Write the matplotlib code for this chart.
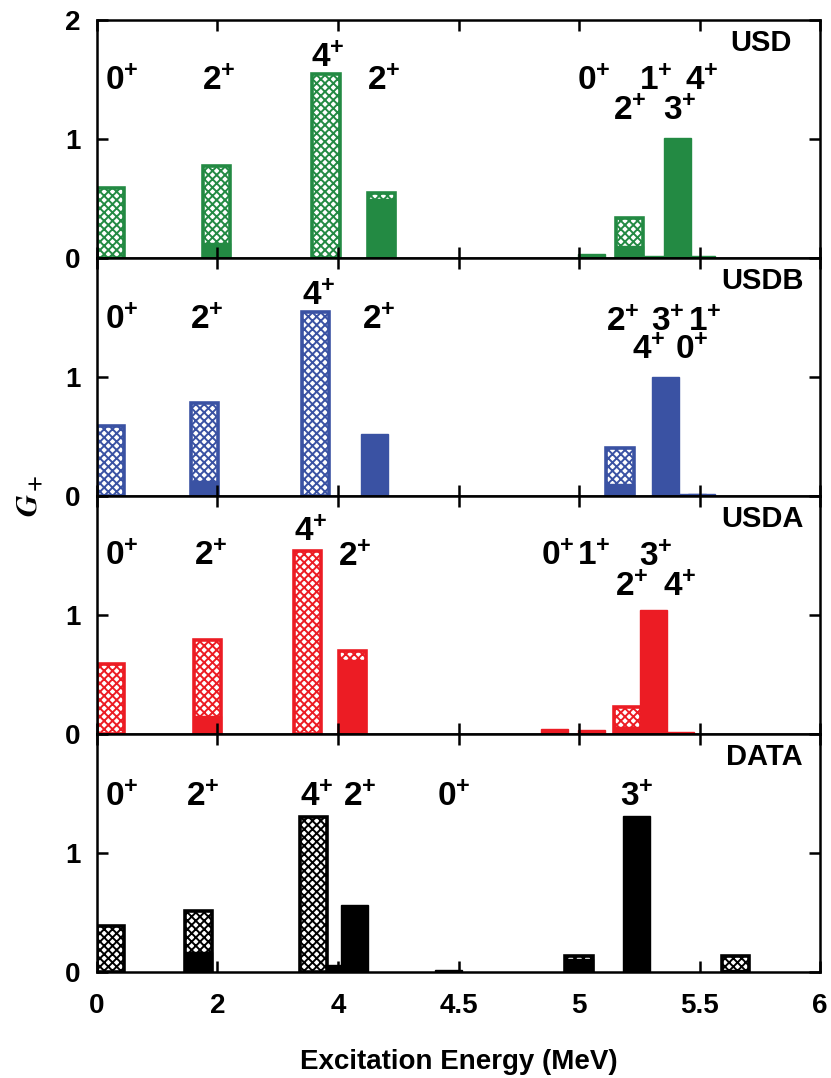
import matplotlib
matplotlib.use("Agg")
import matplotlib.pyplot as plt
import numpy as np

plt.rcParams["font.family"] = ["Liberation Sans", "DejaVu Sans"]
plt.rcParams["font.weight"] = "bold"
plt.rcParams["mathtext.fontset"] = "custom"
plt.rcParams["mathtext.rm"] = "Liberation Sans:bold"
plt.rcParams["mathtext.bf"] = "Liberation Sans:bold"
plt.rcParams["mathtext.it"] = "Liberation Sans:italic:bold"
plt.rcParams["hatch.linewidth"] = 1.4

# Axis: energies in MeV, broken scale (0-4 compressed, 4-6 expanded)
tick_energy = [0, 2, 4, 4.5, 5, 5.5, 6]
tick_labels = ["0", "2", "4", "4.5", "5", "5.5", "6"]

panels = ["USD", "USDB", "USDA", "DATA"]
colors = ["#238a43", "#3a52a3", "#ec1c24", "#000000"]

# bar energies (MeV), total height (hatched) and solid bottom part
usd_energy = [0.22, 1.99, 3.80, 4.18, 5.05, 5.21, 5.31, 5.41, 5.51]
usd_total = [0.59, 0.77, 1.55, 0.55, 0.03, 0.34, 0.02, 1.01, 0.02]
usd_solid = [0.0, 0.13, 0.0, 0.50, 0.03, 0.10, 0.02, 1.01, 0.02]

usdb_energy = [0.22, 1.78, 3.63, 4.15, 5.17, 5.36, 5.47, 5.51]
usdb_total = [0.59, 0.78, 1.55, 0.525, 0.40, 1.00, 0.02, 0.02]
usdb_solid = [0.0, 0.13, 0.0, 0.525, 0.10, 1.00, 0.02, 0.02]

usda_energy = [0.22, 1.84, 3.49, 4.06, 4.90, 5.05, 5.20, 5.31, 5.42]
usda_total = [0.59, 0.79, 1.54, 0.70, 0.04, 0.03, 0.225, 1.04, 0.02]
usda_solid = [0.0, 0.15, 0.0, 0.62, 0.04, 0.03, 0.06, 1.04, 0.02]

data_energy = [3.85, 0.23, 1.69, 3.59, 4.07, 4.46, 5.00, 5.24, 5.65]
data_total = [0.06, 0.39, 0.515, 1.30, 0.56, 0.02, 0.135, 1.31, 0.135]
data_solid = [0.06, 0.0, 0.17, 0.0, 0.56, 0.02, 0.11, 1.31, 0.02]

# level labels: text, energy, height
usd_labels = [("0", 0.42, 1.48), ("2", 2.02, 1.48), ("4", 3.83, 1.68), ("2", 4.19, 1.48),
              ("0", 5.06, 1.48), ("1", 5.32, 1.48), ("4", 5.51, 1.48),
              ("2", 5.21, 1.23), ("3", 5.42, 1.23)]
usdb_labels = [("0", 0.42, 1.475), ("2", 1.83, 1.475), ("4", 3.68, 1.68), ("2", 4.17, 1.475),
               ("2", 5.18, 1.46), ("3", 5.37, 1.46), ("1", 5.52, 1.46),
               ("4", 5.29, 1.22), ("0", 5.47, 1.22)]
usda_labels = [("0", 0.42, 1.49), ("2", 1.89, 1.49), ("4", 3.55, 1.69), ("2", 4.07, 1.48),
               ("0", 4.91, 1.49), ("1", 5.06, 1.49), ("3", 5.32, 1.48),
               ("2", 5.22, 1.23), ("4", 5.42, 1.23)]
data_labels = [("0", 0.42, 1.47), ("2", 1.75, 1.47), ("4", 3.65, 1.47), ("2", 4.09, 1.47),
               ("0", 4.48, 1.47), ("3", 5.24, 1.47)]

energies = [usd_energy, usdb_energy, usda_energy, data_energy]
totals = [usd_total, usdb_total, usda_total, data_total]
solids = [usd_solid, usdb_solid, usda_solid, data_solid]
labels = [usd_labels, usdb_labels, usda_labels, data_labels]
name_x = [0.961, 0.977, 0.977, 0.976]


def to_pos(e):
    return np.interp(e, tick_energy, np.arange(len(tick_energy)))


fig = plt.figure(figsize=(8.31, 10.78), dpi=100)
axes = fig.subplots(4, 1, sharex=True, gridspec_kw=dict(hspace=0))
fig.subplots_adjust(left=0.1167, right=0.9868, top=0.9814, bottom=0.0983)

width = 0.225
for i, ax in enumerate(axes):
    c = colors[i]
    x = to_pos(np.array(energies[i]))
    for xi, tot, sol in zip(x, totals[i], solids[i]):
        if tot > sol:
            ax.bar(xi, tot, width, facecolor="white", edgecolor=c, hatch="xxxx",
                   linewidth=2.6)
        if sol > 0:
            ax.bar(xi, sol, width, color=c, edgecolor=c, linewidth=1)

    for txt, e, y in labels[i]:
        ax.text(to_pos(e), y, r"$\mathbf{%s}^{+}$" % txt, ha="center", va="center",
                fontsize=24)
    ax.text(name_x[i], 0.903, panels[i], transform=ax.transAxes, ha="right",
            va="center", fontsize=21, fontweight="bold")

    ax.set_ylim(0, 2)
    ax.set_yticks([0, 1, 2])
    ax.set_yticklabels(["0", "1", "2"] if i == 0 else ["0", "1", ""])
    ax.tick_params(direction="in", length=8, width=1.8, top=True, right=True,
                   labelsize=20, pad=12)
    for s in ax.spines.values():
        s.set_linewidth(1.8)

axes[-1].set_xlim(0, 6)
axes[-1].set_xticks(range(len(tick_labels)))
axes[-1].set_xticklabels(tick_labels)
axes[-1].tick_params(axis="x", pad=15)
axes[-1].set_xlabel("Excitation Energy (MeV)", fontsize=20, fontweight="bold",
                    labelpad=22)
fig.text(0.036, 0.54, r"$G_+$", rotation=90, ha="center", va="center",
         fontsize=22, math_fontfamily="stix")

fig.savefig("out.png", dpi=100)
